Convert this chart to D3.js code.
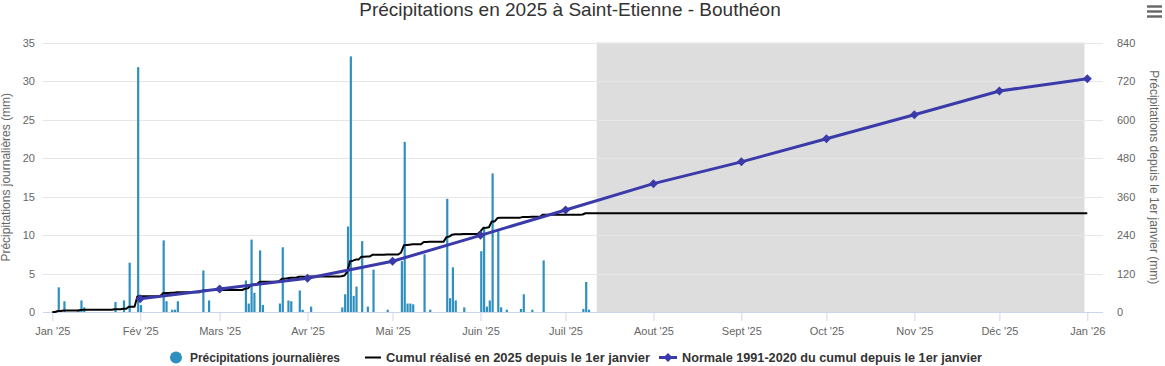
<!DOCTYPE html>
<html><head><meta charset="utf-8">
<script src="https://cdn.jsdelivr.net/npm/d3@7"></script>
<style>
body{margin:0;background:#fff}
svg{display:block;font-family:"Liberation Sans",Arial,sans-serif}
</style>
</head><body>
<svg id="chart" width="1165" height="366"></svg>
<script>
// ---------------- DATA ----------------
const chartTitle = "Précipitations en 2025 à Saint-Etienne - Bouthéon";
const leftAxisTitle = "Précipitations journalières (mm)";
const rightAxisTitle = "Précipitations depuis le 1er janvier (mm)";
const legendLabels = ["Précipitations journalières", "Cumul réalisé en 2025 depuis le 1er janvier", "Normale 1991-2020 du cumul depuis le 1er janvier"];

// daily precipitation (only rainy days), mm
const rainDates = [
  "2025-01-03","2025-01-05","2025-01-10","2025-01-11","2025-01-12","2025-01-23","2025-01-26","2025-01-28","2025-01-31",
  "2025-02-01","2025-02-09","2025-02-10","2025-02-12","2025-02-13","2025-02-14","2025-02-23","2025-02-25",
  "2025-03-10","2025-03-11","2025-03-12","2025-03-13","2025-03-15","2025-03-16","2025-03-22","2025-03-23","2025-03-25","2025-03-26","2025-03-29","2025-03-30",
  "2025-04-02","2025-04-13","2025-04-14","2025-04-15","2025-04-16","2025-04-17","2025-04-18","2025-04-20","2025-04-22","2025-04-24","2025-04-29",
  "2025-05-04","2025-05-05","2025-05-06","2025-05-07","2025-05-08","2025-05-12","2025-05-14","2025-05-20","2025-05-21","2025-05-22","2025-05-23","2025-05-26",
  "2025-06-01","2025-06-02","2025-06-03","2025-06-04","2025-06-05","2025-06-07","2025-06-08","2025-06-10","2025-06-15","2025-06-16","2025-06-19","2025-06-23",
  "2025-07-07","2025-07-08","2025-07-09"
];
const rainValues = [
  3.2,1.4,0.3,1.5,0.6,1.3,1.5,6.4,31.8,
  0.9,9.3,1.4,0.3,0.3,1.4,5.4,1.5,
  4.1,1.1,9.4,2.5,8.0,0.9,1.1,8.4,1.5,1.4,2.8,0.3,
  0.7,0.6,2.3,11.1,33.2,2.1,3.3,9.2,0.7,5.5,0.3,
  6.6,22.1,1.1,1.1,1.0,7.5,0.3,14.7,1.8,5.8,1.5,0.6,
  7.9,11.1,0.7,1.5,18.0,10.5,0.6,0.3,0.4,2.3,0.3,6.7,
  0.4,3.9,0.3
];

// 1991-2020 normal of cumulative precipitation since Jan 1, mm
const normalDates = ["2025-02-01","2025-03-01","2025-04-01","2025-05-01","2025-06-01","2025-07-01","2025-08-01","2025-09-01","2025-10-01","2025-11-01","2025-12-01","2026-01-01"];
const normalValues = [41, 72, 105, 158, 239, 318, 400, 468, 540, 615, 689, 727];

const leftTicks = [0,5,10,15,20,25,30,35];
const rightTicks = [0,120,240,360,480,600,720,840];
const monthTickDates = ["2025-01-01","2025-02-01","2025-03-01","2025-04-01","2025-05-01","2025-06-01","2025-07-01","2025-08-01","2025-09-01","2025-10-01","2025-11-01","2025-12-01","2026-01-01"];
const monthLabels = ["Jan '25","Fév '25","Mars '25","Avr '25","Mai '25","Juin '25","Juil '25","Aout '25","Sept '25","Oct '25","Nov '25","Déc '25","Jan '26"];
const forecastBand = ["2025-07-12","2025-12-31"];
const cumulRange = ["2025-01-01","2026-01-01"];

// ---------------- LAYOUT ----------------
const svg = d3.select("#chart");
const plot = {left: 43, right: 1103, top: 42.5, bottom: 312};
const P = d => new Date(d + "T00:00:00Z");

const x = d3.scaleUtc().domain([P("2025-01-01"), P("2026-01-01")]).range([52.3, 1087.3]);
const yL = d3.scaleLinear().domain([0, 35]).range([plot.bottom, plot.top]);
const yR = d3.scaleLinear().domain([0, 840]).range([plot.bottom, plot.top]);

// title
svg.append("text").attr("x", 570).attr("y", 16).attr("text-anchor", "middle")
  .attr("font-size", 19).attr("fill", "#333").text(chartTitle);

// menu icon
[6.5, 11.5, 16.5].forEach(yy => svg.append("rect").attr("x", 1147).attr("y", yy - 1.2).attr("width", 15).attr("height", 2.4).attr("fill", "#666"));

// forecast band
svg.append("rect").attr("x", x(P(forecastBand[0]))).attr("y", plot.top)
  .attr("width", x(P(forecastBand[1])) - x(P(forecastBand[0]))).attr("height", plot.bottom - plot.top)
  .attr("fill", "#dddddd");

// grid
svg.append("g").selectAll("line").data(leftTicks.slice(1)).join("line")
  .attr("x1", plot.left).attr("x2", plot.right)
  .attr("y1", d => Math.round(yL(d)) + 0.5).attr("y2", d => Math.round(yL(d)) + 0.5)
  .attr("stroke", "#e6e6e6").attr("stroke-width", 1);

// left axis
const gL = svg.append("g").attr("transform", `translate(35,0)`)
  .call(d3.axisLeft(yL).tickValues(leftTicks).tickSize(0).tickPadding(0));
gL.select(".domain").remove();
gL.selectAll("text").attr("fill", "#666").attr("font-size", 11).attr("font-family", "Liberation Sans, Arial, sans-serif").attr("dy", "0.32em");

// right axis
const gR = svg.append("g").attr("transform", `translate(1117,0)`)
  .call(d3.axisRight(yR).tickValues(rightTicks).tickSize(0).tickPadding(0));
gR.select(".domain").remove();
gR.selectAll("text").attr("fill", "#666").attr("font-size", 11).attr("font-family", "Liberation Sans, Arial, sans-serif").attr("dy", "0.32em");

// axis titles
svg.append("text").attr("transform", `translate(10,${(plot.top + plot.bottom) / 2}) rotate(-90)`)
  .attr("text-anchor", "middle").attr("font-size", 12).attr("fill", "#666").text(leftAxisTitle);
svg.append("text").attr("transform", `translate(1150,${(plot.top + plot.bottom) / 2}) rotate(90)`)
  .attr("text-anchor", "middle").attr("font-size", 12).attr("fill", "#666").text(rightAxisTitle);

// x axis
const xTickVals = monthTickDates.map(P);
const gX = svg.append("g").attr("transform", `translate(0,${plot.bottom})`)
  .call(d3.axisBottom(x).tickValues(xTickVals).tickSize(9).tickPadding(6)
    .tickFormat((d, i) => monthLabels[i]));
gX.select(".domain").attr("d", `M${plot.left},0.5H${plot.right}`).attr("stroke", "#ccd6eb");
gX.selectAll(".tick line").attr("stroke", "#ccd6eb");
gX.selectAll("text").attr("fill", "#666").attr("font-size", 11).attr("font-family", "Liberation Sans, Arial, sans-serif");

// bars
const rain = rainDates.map((d, i) => ({date: P(d), v: rainValues[i]}));
svg.append("g").selectAll("rect").data(rain).join("rect")
  .attr("x", d => x(d.date) - 0.3).attr("width", 2.2)
  .attr("y", d => yL(d.v)).attr("height", d => yL(0) - yL(d.v))
  .attr("fill", "#2f90c0");

// cumulative realised: daily running sum of the daily values
const byDay = new Map(rain.map(r => [+r.date, r.v]));
const days = d3.utcDay.range(P(cumulRange[0]), d3.utcDay.offset(P(cumulRange[1]), 1));
let acc = 0;
const cumul = days.map(d => { acc += (byDay.get(+d) || 0); return {date: d, v: acc}; });
svg.append("path").datum(cumul)
  .attr("d", d3.line().x(d => x(d.date)).y(d => yR(d.v)))
  .attr("fill", "none").attr("stroke", "#000").attr("stroke-width", 2).attr("stroke-linejoin", "round");

// normal
const normal = normalDates.map((d, i) => ({date: P(d), v: normalValues[i]}));
svg.append("path").datum(normal)
  .attr("d", d3.line().x(d => x(d.date)).y(d => yR(d.v)))
  .attr("fill", "none").attr("stroke", "#3a3aaa").attr("stroke-width", 3).attr("stroke-linejoin", "round");
svg.append("g").selectAll("path").data(normal).join("path")
  .attr("transform", d => `translate(${x(d.date)},${yR(d.v)})`)
  .attr("d", "M0,-4.5L4.5,0L0,4.5L-4.5,0Z").attr("fill", "#3a3aaa");

// legend
const lg = svg.append("g").attr("font-size", 12).attr("font-weight", "bold").attr("fill", "#333");
lg.append("circle").attr("cx", 176).attr("cy", 357.5).attr("r", 6).attr("fill", "#2f90c0");
lg.append("text").attr("x", 190).attr("y", 362).attr("textLength", 150).attr("lengthAdjust", "spacingAndGlyphs").text(legendLabels[0]);
lg.append("line").attr("x1", 365).attr("x2", 381).attr("y1", 357.5).attr("y2", 357.5).attr("stroke", "#000").attr("stroke-width", 2);
lg.append("text").attr("x", 386).attr("y", 362).attr("textLength", 264).attr("lengthAdjust", "spacingAndGlyphs").text(legendLabels[1]);
lg.append("line").attr("x1", 659).attr("x2", 677).attr("y1", 357.5).attr("y2", 357.5).attr("stroke", "#3a3aaa").attr("stroke-width", 3);
lg.append("path").attr("transform", "translate(668,357.5)").attr("d", "M0,-4.5L4.5,0L0,4.5L-4.5,0Z").attr("fill", "#3a3aaa");
lg.append("text").attr("x", 682).attr("y", 362).attr("textLength", 300).attr("lengthAdjust", "spacingAndGlyphs").text(legendLabels[2]);
</script>
</body></html>
